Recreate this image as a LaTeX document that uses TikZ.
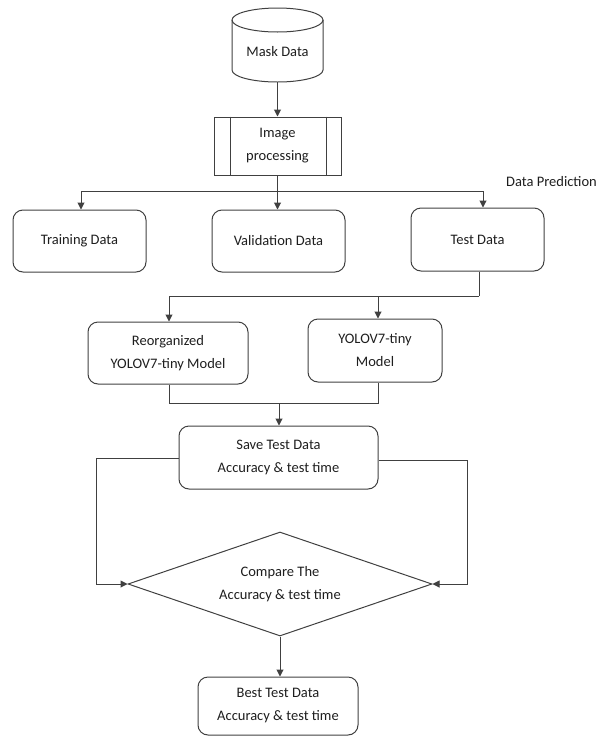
\documentclass[tikz,border=0pt]{standalone}
\usepackage{fontspec}
\setmainfont{Carlito}
\usetikzlibrary{shapes.geometric,arrows.meta}
\definecolor{linec}{RGB}{64,64,64}
\definecolor{textc}{RGB}{30,30,30}
\begin{document}
\begin{tikzpicture}[x=1pt,y=-1pt,
  every node/.style={font=\fontsize{14.5}{23}\selectfont, text=textc, align=center, inner sep=0pt},
  line/.style={draw=linec, line width=1pt},
  arr/.style={line, -{Triangle[width=7pt,length=7pt]}},
  rbox/.style={line, rounded corners=10pt},
  procbox/.style={line},
  decision/.style={line, diamond, aspect=2.92},
  plain/.style={}
]
\useasboundingbox (0,0) rectangle (609,737);
% cylinder
\node[minimum width=91pt, minimum height=60pt] (mask) at (277.5,52) {Mask Data};
\draw[line] (232,20) -- (232,70) arc[start angle=180,end angle=360,x radius=45.5pt,y radius=12pt] -- (323,20);
\draw[line] (277.5,20) ellipse[x radius=45.5pt,y radius=12pt];
% process
\node[procbox, minimum width=127pt, minimum height=58pt] (proc) at (277.5,146) {Image\\processing};
\draw[line] ([xshift=17pt]proc.north west) -- ([xshift=17pt]proc.south west);
\draw[line] ([xshift=-15pt]proc.north east) -- ([xshift=-15pt]proc.south east);
\draw[arr] (mask.south) -- (proc.north);
% data boxes
\node[rbox, minimum width=133pt, minimum height=62pt] (train) at (79.5,241) {Training Data};
\node[rbox, minimum width=133pt, minimum height=62pt] (val) at (278.5,241) {Validation Data};
\node[rbox, minimum width=133pt, minimum height=63pt] (test) at (477.5,239.5) {Test Data};
\node[plain, anchor=west] (pred) at (506,182) {Data Prediction};
\coordinate (split) at (278,191);
\draw[arr] (proc.south) -- (proc.south |- val.north);
\draw[arr] (split) -| ([xshift=1.5pt]train.north);
\draw[arr] (split) -| ([xshift=5.5pt]test.north);
% models
\node[rbox, minimum width=160pt, minimum height=62pt] (reorg) at (168,353) {Reorganized\\YOLOV7-tiny Model};
\node[rbox, minimum width=134pt, minimum height=63pt] (yolo) at (375,350.5) {YOLOV7-tiny\\Model};
\coordinate (tsplit) at (479,296);
\draw[line] ([xshift=1.5pt]test.south) -- (tsplit);
\draw[arr] (tsplit) -| ([xshift=1pt]reorg.north);
\draw[arr] ([xshift=3pt]yolo.north |- tsplit) -- ([xshift=3pt]yolo.north);
% save
\node[rbox, minimum width=199pt, minimum height=63pt] (save) at (278.5,457.5) {Save Test Data\\Accuracy \& test time};
\coordinate (merge) at (279,403.5);
\draw[line] ([xshift=1pt]reorg.south) |- (merge) -| ([xshift=3pt]yolo.south);
\draw[arr] (merge) -- (merge |- save.north);
% decision
\node[decision, minimum width=304pt, minimum height=104pt] (dia) at (280,584) {Compare The\\Accuracy \& test time};
\coordinate (lc) at (96,458);
\coordinate (rc) at (467,460);
\draw[arr] (save.west |- lc) -- (lc) |- (dia.west);
\draw[arr] (save.east |- rc) -- (rc) |- (dia.east);
% best
\node[rbox, minimum width=160pt, minimum height=58pt] (best) at (278,706) {Best Test Data\\Accuracy \& test time};
\draw[arr] (dia.south) -- (dia.south |- best.north);
\end{tikzpicture}
\end{document}
